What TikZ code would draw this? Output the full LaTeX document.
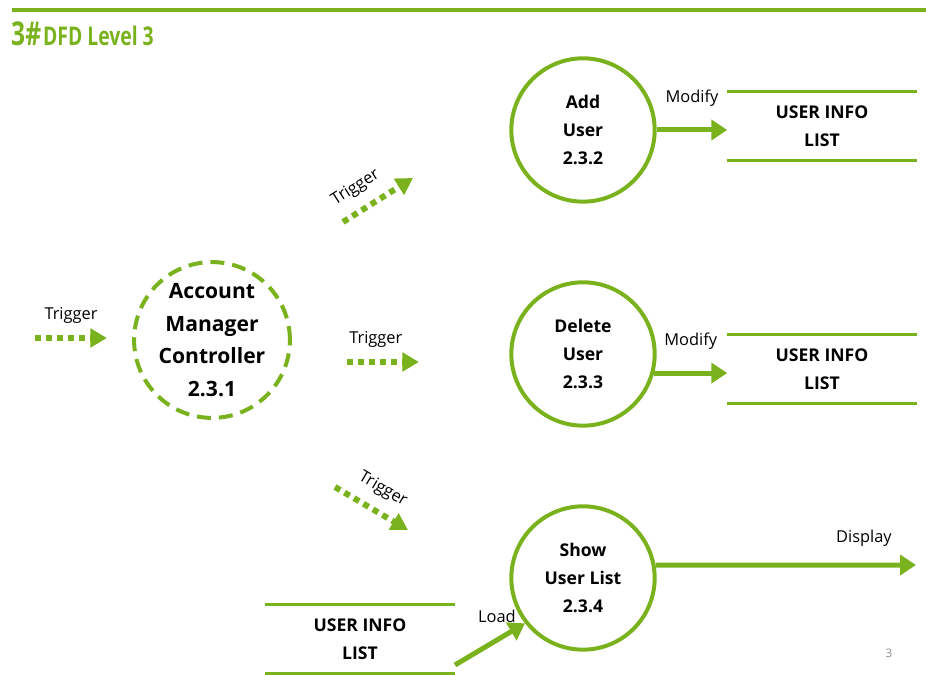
\documentclass[tikz,border=0pt]{standalone}
\usepackage{fontspec}
\setmainfont{Open Sans}
\usetikzlibrary{arrows.meta,calc}
\definecolor{dfdgreen}{RGB}{122,178,30}
\tikzstyle{process}=[circle,draw=dfdgreen,line width=1.2mm,minimum size=43mm,inner sep=0pt,align=center,font=\bfseries\fontsize{15}{24}\selectfont]
\tikzstyle{controller}=[process,minimum size=46.5mm,dash pattern=on 4.2mm off 2.4mm,font=\bfseries\fontsize{18}{28}\selectfont]
\tikzstyle{store}=[minimum width=56.7mm,minimum height=20.4mm,inner sep=0pt,align=center,font=\bfseries\fontsize{15}{24}\selectfont]
\tikzstyle{storeline}=[dfdgreen,line width=0.9mm]
\tikzstyle{flow}=[dfdgreen,line width=1.5mm,-{Triangle[length=4.8mm,width=6mm]}]
\tikzstyle{trigger}=[dfdgreen,line width=1.8mm,dash pattern=on 1.8mm off 1.5mm,-{Triangle[length=5mm,width=5.5mm]}]
\tikzstyle{flowlabel}=[font=\fontsize{14}{16}\selectfont,text=black,inner sep=1pt]
\newcommand{\drawstore}[3]{
  \node[store] (#1) at (#2,#3) {USER INFO\\LIST};
  \draw[storeline] (#1.north west) -- (#1.north east);
  \draw[storeline] (#1.south west) -- (#1.south east);
}

\begin{document}
\begin{tikzpicture}[x=0.3mm,y=0.3mm]
	\useasboundingbox (0,0) rectangle (926,675);
	% title
	\coordinate (barL) at (12,665);
	\coordinate (barR) at (926,665);
	\draw[dfdgreen,line width=1.2mm] (barL) -- (barR);
	\node[anchor=base west,text=dfdgreen,inner sep=0pt] (title) at (11,629) {\scalebox{0.75}[1]{\bfseries\fontsize{28}{30}\selectfont 3\#}\,\scalebox{0.75}[1]{\bfseries\fontsize{22}{24}\selectfont DFD Level 3}};
	% processes
	\node[controller] (acc) at (212,335) {Account\\Manager\\Controller\\2.3.1};
	\node[process] (add) at (583,545) {Add\\User\\2.3.2};
	\node[process] (del) at (583,321) {Delete\\User\\2.3.3};
	\node[process] (show) at (583,97) {Show\\User List\\2.3.4};
	% data stores
	\drawstore{listA}{822}{549}
	\drawstore{listB}{822}{306}
	\drawstore{listC}{360}{36}
	% triggers
	\coordinate (t0s) at (35,337);  \coordinate (t0e) at (107,337);
	\coordinate (t1s) at (343,453); \coordinate (t1e) at (413,497);
	\coordinate (t2s) at (347,313); \coordinate (t2e) at (419,313);
	\coordinate (t3s) at (335,188); \coordinate (t3e) at (408,145);
	\draw[trigger] (t0s) -- (t0e) node[flowlabel,midway,above=3mm] {Trigger};
	\draw[trigger] (t1s) -- (t1e) node[flowlabel,pos=0.35,sloped,above=3mm] {Trigger};
	\draw[trigger] (t2s) -- (t2e) node[flowlabel,pos=0.4,above=3mm] {Trigger};
	\draw[trigger] (t3s) -- (t3e) node[flowlabel,midway,sloped,above=3mm] {Trigger};
	% flows
	\draw[flow] (add.east) -- (add.east -| listA.west) node[flowlabel,midway,above=6mm] {Modify};
	\draw[flow] (del.-15) -- (del.-15 -| listB.west) node[flowlabel,midway,above=6mm] {Modify};
	\coordinate (dispEnd) at (916,110);
	\draw[flow] (show.10) -- (dispEnd) node[flowlabel,pos=0.8,above=4.5mm] {Display};
	\coordinate (loadStart) at (455,10);
	\draw[flow] (loadStart) -- (show.218) node[flowlabel,pos=0.6,above=4mm] {Load};
	\node[text=black!45,font=\fontsize{10}{12}\selectfont] (pagenum) at (889,22) {3};
\end{tikzpicture}
\end{document}
